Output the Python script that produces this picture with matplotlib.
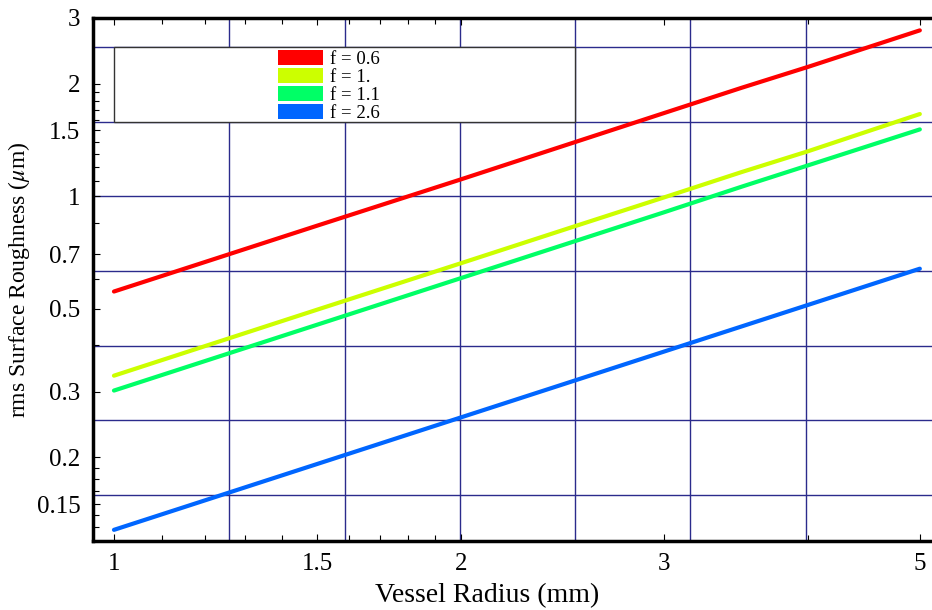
import matplotlib
matplotlib.use("Agg")
import matplotlib.pyplot as plt
from matplotlib.patches import Rectangle, Patch
from matplotlib.ticker import FixedLocator, NullFormatter

plt.rcParams['font.family'] = ['Liberation Serif', 'DejaVu Serif']
plt.rcParams['mathtext.fontset'] = 'stix'

# data
radius = [1, 1.5, 2, 2.5, 3, 3.5, 4, 4.5, 5]
f_labels = ['f = 0.6', 'f = 1.', 'f = 1.1', 'f = 2.6']
rough_f06 = [0.556, 0.834, 1.11, 1.39, 1.67, 1.95, 2.22, 2.50, 2.78]
rough_f10 = [0.331, 0.497, 0.662, 0.828, 0.993, 1.16, 1.32, 1.49, 1.66]
rough_f11 = [0.302, 0.453, 0.604, 0.755, 0.906, 1.06, 1.21, 1.36, 1.51]
rough_f26 = [0.128, 0.192, 0.256, 0.320, 0.384, 0.448, 0.512, 0.576, 0.640]
colors = ['#ff0000', '#ccff00', '#00ff66', '#0066ff']

x_major = [1, 1.5, 2, 3, 5]
x_minor = [1.1, 1.2, 1.3, 1.4, 1.6, 1.7, 1.8, 1.9, 4]
y_major = [0.15, 0.2, 0.3, 0.5, 0.7, 1, 1.5, 2, 3]
y_minor = [0.13, 0.14, 0.1625, 0.175, 0.1875, 0.4, 0.6, 0.85,
           1.1, 1.2, 1.3, 1.4, 1.6, 1.7, 1.8, 1.9]
x_grid = [10 ** (k / 10) for k in range(1, 7)]
y_grid = [10 ** (k / 10) for k in range(-8, 5, 2)]

fig = plt.figure(figsize=(9.32, 6.10), dpi=100)
ax = fig.add_axes([93 / 932, 1 - 541 / 610, 1 - 93 / 932, 523 / 610])
ax.set_xscale('log')
ax.set_yscale('log')
ax.set_xlim(0.959, 5.123)
ax.set_ylim(0.1195, 3)

for g in x_grid:
    ax.axvline(g, color='#2b2b8c', lw=1, zorder=1)
for g in y_grid:
    ax.axhline(g, color='#2b2b8c', lw=1, zorder=1)

# legend box
ax.add_patch(Rectangle((1, 10 ** 0.2), 10 ** 0.4 - 1, 10 ** 0.4 - 10 ** 0.2,
                       facecolor='white', edgecolor='#333333', lw=1, zorder=2))

series = [rough_f06, rough_f10, rough_f11, rough_f26]
for ys, c in zip(series, colors):
    ax.plot(radius, ys, color=c, lw=3, solid_capstyle='round', zorder=3)

handles = [Patch(facecolor=c, edgecolor='none') for c in colors]
leg = ax.legend(handles, f_labels, loc='upper left',
                bbox_to_anchor=((278 - 93) / 839, 1 - (50 - 18) / 523),
                frameon=False, fontsize=13.5, handlelength=2.4, handleheight=0.85,
                handletextpad=0.35, labelspacing=0.0, borderpad=0, borderaxespad=0)
leg.set_zorder(4)

ax.xaxis.set_major_locator(FixedLocator(x_major))
ax.xaxis.set_minor_locator(FixedLocator(x_minor))
ax.xaxis.set_minor_formatter(NullFormatter())
ax.set_xticklabels(['1', '1.5', '2', '3', '5'])
ax.yaxis.set_major_locator(FixedLocator(y_major))
ax.yaxis.set_minor_locator(FixedLocator(y_minor))
ax.yaxis.set_minor_formatter(NullFormatter())
ax.set_yticklabels(['0.15', '0.2', '0.3', '0.5', '0.7', '1', '1.5', '2', '3'])

ax.tick_params(which='both', direction='in', top=True, right=False,
               labelsize=18, width=0.8, color='black')
ax.tick_params(which='major', length=5, pad=9)
ax.tick_params(which='minor', length=4)

for side in ['left', 'bottom', 'top']:
    ax.spines[side].set_linewidth(2.5)
ax.spines['right'].set_visible(False)

ax.set_xlabel('Vessel Radius (mm)', fontsize=20)
ax.xaxis.set_label_coords((487 - 93) / 839, -(596 - 541) / 523)
ax.xaxis.label.set_va('center')
ax.set_ylabel(r'rms Surface Roughness ($\mu$m)', fontsize=17)
ax.yaxis.set_label_coords(-(93 - 19) / 839, 0.5)
ax.yaxis.label.set_va('center')

fig.savefig('out.png', dpi=100)
